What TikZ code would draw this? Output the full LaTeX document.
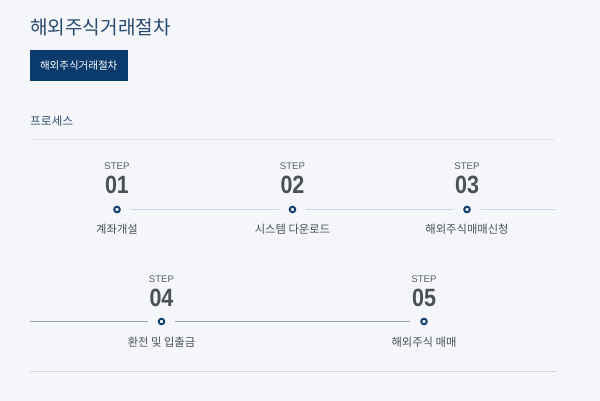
\documentclass[tikz,border=0pt]{standalone}
\usepackage{fontspec}
\setmainfont{Liberation Sans}
\newfontfamily\kr{Noto Sans CJK KR}
\newfontfamily\stepnum[FakeStretch=0.86]{Liberation Sans}

\definecolor{pagebg}{HTML}{F4F6FA}
\definecolor{titleblue}{HTML}{27496D}
\definecolor{navy}{HTML}{0B3A6C}
\definecolor{dotblue}{HTML}{0D3E6F}
\definecolor{stepgray}{HTML}{5A5F66}
\definecolor{textgray}{HTML}{4B5057}
\definecolor{lightrule}{HTML}{E1E5EB}
\definecolor{rowone}{HTML}{C9D5E8}
\definecolor{rowtwo}{HTML}{97A1AE}
\definecolor{bottomrule}{HTML}{D3D6DB}

\begin{document}
\begin{tikzpicture}[x=1pt, y=-1pt,
		steplabel/.style={inner sep=0, text=stepgray, font=\fontsize{9.6}{10}\selectfont},
		stepnumber/.style={inner sep=0, text=textgray, font=\stepnum\bfseries\fontsize{25}{26}\selectfont},
		stepdot/.style={circle, draw=dotblue, line width=1.9pt, fill=pagebg, inner sep=0, minimum size=5.6pt, outer sep=11pt},
		steptext/.style={inner sep=0, text=textgray, font=\kr\fontsize{11.3}{13}\selectfont}]
			% Background
			\fill[pagebg] (0,0) rectangle (600,401);
			\useasboundingbox (0,0) rectangle (600,401);

			% Heading and button
			\node[anchor=west, inner sep=0, text=titleblue, font=\kr\fontsize{19.1}{22}\selectfont] (title) at (30,27) {해외주식거래절차};
			\node[anchor=north west, fill=navy, text=white, inner sep=0, minimum width=98.4pt, minimum height=30.7pt, font=\kr\fontsize{10.5}{12}\selectfont] (button) at (29.3,50) {해외주식거래절차};
			\node[anchor=west, inner sep=0, text=titleblue!85!gray, font=\kr\fontsize{11.7}{13}\selectfont] (process) at (30,121.5) {프로세스};
			\draw[lightrule, line width=0.8pt] (30,139) -- (555,139);

			% Step 1
			\node[steplabel] (label1) at (117,166.5) {STEP};
			\node[stepnumber] (num1) at (117,185) {01};
			\node[stepdot] (dot1) at (117,209.5) {};
			\node[steptext] (text1) at (117,229.5) {계좌개설};

			% Step 2
			\node[steplabel] (label2) at (292.5,166.5) {STEP};
			\node[stepnumber] (num2) at (292.5,185) {02};
			\node[stepdot] (dot2) at (292.5,209.5) {};
			\node[steptext] (text2) at (292.5,229.5) {시스템 다운로드};

			% Step 3
			\node[steplabel] (label3) at (467,166.5) {STEP};
			\node[stepnumber] (num3) at (467,185) {03};
			\node[stepdot] (dot3) at (467,209.5) {};
			\node[steptext] (text3) at (467,229.5) {해외주식매매신청};

			% Step 4
			\node[steplabel] (label4) at (161.5,279) {STEP};
			\node[stepnumber] (num4) at (161.5,298) {04};
			\node[stepdot] (dot4) at (161.5,321.5) {};
			\node[steptext] (text4) at (161.5,342) {환전 및 입출금};

			% Step 5
			\node[steplabel] (label5) at (424,279) {STEP};
			\node[stepnumber] (num5) at (424,298) {05};
			\node[stepdot] (dot5) at (424,321.5) {};
			\node[steptext] (text5) at (424,342) {해외주식 매매};

			% Connecting lines
			\coordinate (rowoneend) at (555,209.5);
			\coordinate (rowtwostart) at (30,321.5);
			\draw[rowone, line width=0.8pt] (dot1) -- (dot2);
			\draw[rowone, line width=0.8pt] (dot2) -- (dot3);
			\draw[rowone, line width=0.8pt] (dot3) -- (rowoneend);
			\draw[rowtwo, line width=0.8pt] (rowtwostart) -- (dot4);
			\draw[rowtwo, line width=0.8pt] (dot4) -- (dot5);

			% Bottom rule
			\draw[bottomrule, line width=0.8pt] (30,371) -- (555.5,371);
		\end{tikzpicture}
\end{document}
